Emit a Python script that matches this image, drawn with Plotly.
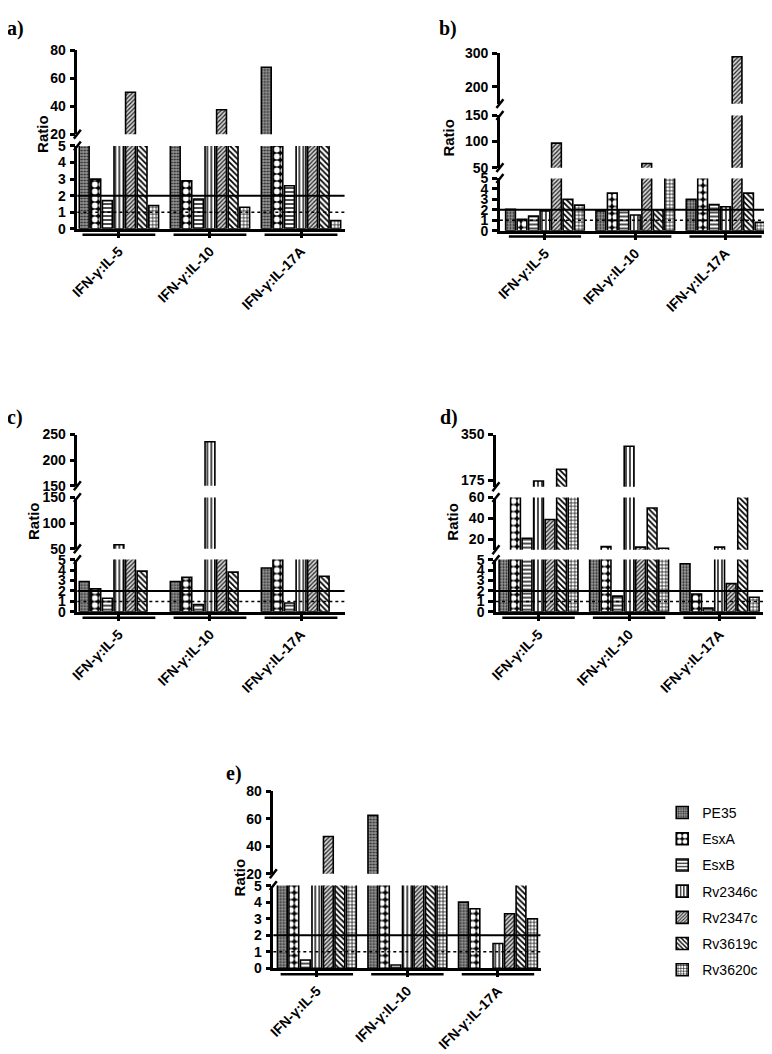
import plotly.graph_objects as go

# ---------------- data ----------------
categories = ["IFN-γ:IL-5", "IFN-γ:IL-10", "IFN-γ:IL-17A"]
series_names = ["PE35", "EsxA", "EsxB", "Rv2346c", "Rv2347c", "Rv3619c", "Rv3620c"]

# rows follow series_names, columns follow categories
panel_a_values = [
    [10, 10, 68],
    [3.0, 2.9, 10],
    [1.7, 1.8, 2.6],
    [10, 10, 10],
    [50, 37.5, 10],
    [10, 10, 10],
    [1.4, 1.3, 0.5],
]
panel_b_values = [
    [2.05, 1.9, 3.0],
    [1.1, 3.6, 10],
    [1.4, 2.0, 2.5],
    [1.9, 1.5, 2.3],
    [97, 58, 290],
    [3.0, 2.0, 3.6],
    [2.45, 10, 0.8],
]
panel_c_values = [
    [2.9, 2.9, 4.2],
    [2.2, 3.3, 10],
    [1.3, 0.7, 0.85],
    [58, 236, 10],
    [10, 10, 10],
    [3.9, 3.8, 3.4],
    [None, None, None],
]
panel_d_values = [
    [8, 8, 4.6],
    [100, 13, 1.7],
    [21, 1.5, 0.35],
    [172, 305, 12.5],
    [39, 12.5, 2.7],
    [217, 50, 100],
    [100, 11.5, 1.4],
]
panel_e_values = [
    [10, 62.5, 4.0],
    [10, 10, 3.6],
    [0.5, 0.2, None],
    [10, 10, 1.5],
    [47, 10, 3.3],
    [10, 10, 10],
    [10, 10, 3.0],
]

# ---------------- layout (pixel geometry) ----------------
W, H = 772, 1054
OFF = 8  # page body margin
def fx(px):
    return (px - OFF) / W
def fy(py):
    return 1 - (py - OFF) / H

# segments: (low, high, bottom_px, top_px, tickvals)
PANELS = [
    dict(key="a", values=panel_a_values, yx=70, xr=340, centers=(112, 204, 296),
         segs=[(0, 5, 224, 140, [0, 1, 2, 3, 4, 5]), (20, 80, 128, 43, [20, 40, 60, 80])],
         label=(7, 21), ratio=(34, 128)),
    dict(key="b", values=panel_b_values, yx=497, xr=768, centers=(542.5, 633.5, 725),
         segs=[(0, 5, 226, 173, [0, 1, 2, 3, 4, 5]), (50, 150, 162, 109, [50, 100, 150]),
               (150, 300, 97, 46, [200, 300])],
         label=(445, 21), ratio=(445, 131)),
    dict(key="c", values=panel_c_values, yx=70, xr=340, centers=(112, 204, 296),
         segs=[(0, 5, 613, 560, [0, 1, 2, 3, 4, 5]), (50, 150, 549, 497, [50, 100, 150]),
               (150, 250, 485, 433, [150, 200, 250])],
         label=(7, 416), ratio=(25, 521)),
    dict(key="d", values=panel_d_values, yx=493, xr=763, centers=(536, 627, 719),
         segs=[(0, 5, 613, 560, [0, 1, 2, 3, 4, 5]), (10, 60, 550, 497, [20, 40, 60]),
               (150, 350, 486, 433, [175, 350])],
         label=(446, 416), ratio=(449, 521)),
    dict(key="e", values=panel_e_values, yx=268, xr=538, centers=(312, 404, 495),
         segs=[(0, 5, 975, 891, [0, 1, 2, 3, 4, 5]), (20, 80, 879, 795, [20, 40, 60, 80])],
         label=(228, 777), ratio=(234, 883)),
]

PATTERNS = {
    "PE35":    dict(shape=".", fgcolor="#222222", bgcolor="#9a9a9a", size=3, solidity=0.4),
    "EsxA":    dict(shape=".", fgcolor="#ffffff", bgcolor="#000000", size=7, solidity=0.55),
    "EsxB":    dict(shape="-", fgcolor="#000000", bgcolor="#ffffff", size=4, solidity=0.35),
    "Rv2346c": dict(shape="|", fgcolor="#000000", bgcolor="#ffffff", size=4, solidity=0.35),
    "Rv2347c": dict(shape="/", fgcolor="#222222", bgcolor="#d4d4d4", size=3, solidity=0.4),
    "Rv3619c": dict(shape="\\", fgcolor="#000000", bgcolor="#ffffff", size=4, solidity=0.45),
    "Rv3620c": dict(shape="+", fgcolor="#000000", bgcolor="#ffffff", size=3.5, solidity=0.35),
}

TICKFONT = dict(family="Liberation Sans, Arial", size=14, color="black", weight="bold")

fig = go.Figure()
layout = {}
shapes = []
annotations = []
yid = 0

def slash(xc, yc):
    return dict(type="line", xref="paper", yref="paper",
                x0=fx(xc - 3.5), y0=fy(yc + 4.5), x1=fx(xc + 3.5), y1=fy(yc - 4.5),
                line=dict(color="black", width=2.5))

for pi, p in enumerate(PANELS):
    xname = "x" if pi == 0 else f"x{pi + 1}"
    xkey = "xaxis" if pi == 0 else f"xaxis{pi + 1}"
    c0, c1, c2 = p["centers"]
    pitch = (c2 - c0) / 2.0
    xrange_ = [-(c0 - p["yx"]) / pitch, 2 + (p["xr"] - c2) / pitch]
    lower_yname = None
    nseg = len(p["segs"])
    for si, (lo, hi, bpx, tpx, tv) in enumerate(p["segs"]):
        yid += 1
        yname = "y" if yid == 1 else f"y{yid}"
        ykey = "yaxis" if yid == 1 else f"yaxis{yid}"
        if si == 0:
            lower_yname = yname
        layout[ykey] = dict(
            domain=[fy(bpx), fy(tpx)], range=[lo, hi], anchor=xname,
            tickvals=tv, ticktext=[str(v) for v in tv],
            showline=True, linewidth=2.5, linecolor="black",
            ticks="outside", ticklen=5, tickwidth=2.5, tickcolor="black",
            showgrid=False, zeroline=False, tickfont=TICKFONT, ticklabelstandoff=1,
        )
        for k, sname in enumerate(series_names):
            fig.add_trace(go.Bar(
                x=[0, 1, 2], y=p["values"][k], xaxis=xname, yaxis=yname,
                name=sname, legendgroup=sname, offsetgroup=sname,
                showlegend=(p["key"] == "e" and si == 0),
                marker=dict(color=PATTERNS[sname]["bgcolor"],
                            line=dict(color="black", width=1.6),
                            pattern=dict(fillmode="replace", **PATTERNS[sname])),
                hoverinfo="skip",
            ))
        # break slashes at segment ends
        if si > 0:
            shapes.append(slash(p["yx"], bpx))
        if si < nseg - 1:
            shapes.append(slash(p["yx"], tpx))
    layout[xkey] = dict(
        domain=[fx(p["yx"]), fx(p["xr"])], range=xrange_, anchor=lower_yname,
        tickvals=[0, 1, 2], ticktext=categories, tickangle=-45,
        showline=True, linewidth=3, linecolor="black",
        ticks="outside", ticklen=6, tickwidth=2.5, tickcolor="black",
        showgrid=False, zeroline=False, tickfont=TICKFONT,
    )
    # threshold lines in the lowest segment
    shapes.append(dict(type="line", xref=f"{xname} domain", yref=lower_yname,
                       x0=0, x1=1, y0=2, y1=2, line=dict(color="black", width=2)))
    shapes.append(dict(type="line", xref=f"{xname} domain", yref=lower_yname,
                       x0=0, x1=1, y0=1, y1=1, line=dict(color="black", width=1.5, dash="dot")))
    # group brackets under the axis
    bottom_px = p["segs"][0][2]
    for i in range(3):
        shapes.append(dict(type="line", xref=xname, yref="paper",
                           x0=i - 0.4, x1=i + 0.4, y0=fy(bottom_px + 6), y1=fy(bottom_px + 6),
                           line=dict(color="black", width=2.5)))
    # labels
    annotations.append(dict(text=f"{p['key']})", xref="paper", yref="paper",
                            x=fx(p["label"][0]), y=fy(p["label"][1]),
                            showarrow=False, xanchor="center", yanchor="middle",
                            font=dict(family="Liberation Serif, Times New Roman", size=20,
                                      color="black", weight="bold")))
    annotations.append(dict(text="Ratio", xref="paper", yref="paper", textangle=-90,
                            x=fx(p["ratio"][0]), y=fy(p["ratio"][1]),
                            showarrow=False, xanchor="center", yanchor="middle",
                            font=dict(family="Liberation Sans, Arial", size=15,
                                      color="black", weight="bold")))

fig.update_layout(**layout)
fig.update_layout(
    width=W, height=H, margin=dict(l=0, r=0, t=0, b=0),
    paper_bgcolor="white", plot_bgcolor="rgba(0,0,0,0)",
    barmode="group", bargap=0.11, bargroupgap=0.15,
    shapes=shapes, annotations=annotations,
    showlegend=True,
    legend=dict(x=fx(661), y=fy(801), xanchor="left", yanchor="top",
                font=dict(family="Liberation Sans, Arial", size=14, color="black"),
                tracegroupgap=5, bgcolor="rgba(0,0,0,0)"),
)

fig.write_html("out.html")
